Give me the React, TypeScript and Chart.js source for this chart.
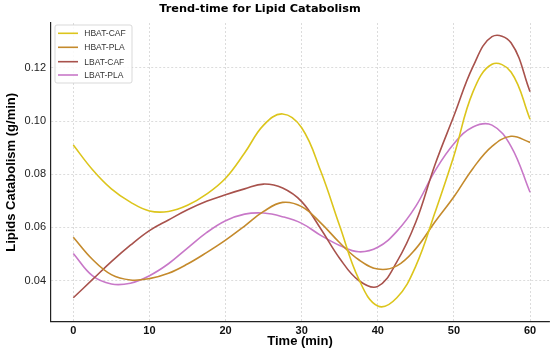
import React, { useEffect, useRef } from 'react';
import { Chart, registerables } from 'chart.js';

Chart.register(...registerables);

const chartTitle = 'Trend-time for Lipid Catabolism';
const xAxisTitle = 'Time (min)';
const yAxisTitle = 'Lipids Catabolism (g/min)';

const times = [0, 2.5, 5, 7.5, 10, 12.5, 15, 17.5, 20, 22.5, 25, 27.5, 30, 32.5, 35, 37.5, 40, 42.5, 45, 47.5, 50, 52.5, 55, 57.5, 60];

const hbatCaf = [0.091, 0.0818, 0.0745, 0.0695, 0.0662, 0.066, 0.0683, 0.0725, 0.0785, 0.088, 0.0985, 0.1027, 0.0975, 0.0812, 0.0605, 0.0405, 0.0304, 0.0335, 0.0455, 0.0655, 0.087, 0.111, 0.1214, 0.1185, 0.1007];
const hbatPla = [0.0563, 0.048, 0.0422, 0.0402, 0.0407, 0.0427, 0.0462, 0.0505, 0.0552, 0.0605, 0.066, 0.0694, 0.0678, 0.0617, 0.0542, 0.0478, 0.0443, 0.0455, 0.052, 0.062, 0.0715, 0.0822, 0.0905, 0.0943, 0.092];
const lbatCaf = [0.0335, 0.0403, 0.0471, 0.0533, 0.0588, 0.0628, 0.0666, 0.0698, 0.0723, 0.0745, 0.0763, 0.0748, 0.0697, 0.0595, 0.0483, 0.04, 0.0378, 0.047, 0.062, 0.0835, 0.102, 0.1205, 0.1318, 0.1295, 0.1111];
const lbatPla = [0.0502, 0.0418, 0.0387, 0.039, 0.0418, 0.0463, 0.0522, 0.058, 0.0625, 0.065, 0.0654, 0.064, 0.0615, 0.057, 0.0532, 0.0508, 0.0525, 0.0585, 0.068, 0.0812, 0.0915, 0.0978, 0.0985, 0.0905, 0.0732];

const seriesNames = ['HBAT-CAF', 'HBAT-PLA', 'LBAT-CAF', 'LBAT-PLA'];
const seriesValues = [hbatCaf, hbatPla, lbatCaf, lbatPla];
const seriesColors = ['#dcc51c', '#c48a2c', '#a8524c', '#c878c8'];

const xTicks = [0, 10, 20, 30, 40, 50, 60];
const yTicks = [0.04, 0.06, 0.08, 0.1, 0.12];

const titlePlugin = {
  id: 'customTitle',
  afterDraw(chart: any) {
    const ctx = chart.ctx;
    ctx.save();
    ctx.font = 'bold 11.3px "DejaVu Sans"';
    ctx.fillStyle = '#000';
    ctx.textAlign = 'center';
    ctx.textBaseline = 'alphabetic';
    ctx.fillText(chartTitle, 260, 11.7);
    ctx.restore();
  },
};

const legendPlugin = {
  id: 'customLegend',
  afterDatasetsDraw(chart: any) {
    const ctx = chart.ctx;
    ctx.save();
    const x0 = 55, y0 = 25, w = 77, h = 58, r = 2;
    ctx.beginPath();
    ctx.moveTo(x0 + r, y0);
    ctx.lineTo(x0 + w - r, y0);
    ctx.quadraticCurveTo(x0 + w, y0, x0 + w, y0 + r);
    ctx.lineTo(x0 + w, y0 + h - r);
    ctx.quadraticCurveTo(x0 + w, y0 + h, x0 + w - r, y0 + h);
    ctx.lineTo(x0 + r, y0 + h);
    ctx.quadraticCurveTo(x0, y0 + h, x0, y0 + h - r);
    ctx.lineTo(x0, y0 + r);
    ctx.quadraticCurveTo(x0, y0, x0 + r, y0);
    ctx.closePath();
    ctx.fillStyle = 'rgba(255,255,255,0.85)';
    ctx.fill();
    ctx.strokeStyle = '#cfcfcf';
    ctx.lineWidth = 0.8;
    ctx.stroke();
    const rows = [33.3, 47.3, 61.7, 75];
    ctx.font = '8.5px "Liberation Sans"';
    ctx.textBaseline = 'middle';
    ctx.textAlign = 'left';
    seriesNames.forEach((name, i) => {
      ctx.beginPath();
      ctx.strokeStyle = seriesColors[i];
      ctx.lineWidth = 1.6;
      ctx.moveTo(58, rows[i]);
      ctx.lineTo(78, rows[i]);
      ctx.stroke();
      ctx.fillStyle = '#333';
      ctx.fillText(name, 84.3, rows[i] + 0.5);
    });
    ctx.restore();
  },
};

export default function App() {
  const ref = useRef<HTMLCanvasElement>(null);
  useEffect(() => {
    document.body.style.margin = '0';
    const chart = new Chart(ref.current as HTMLCanvasElement, {
      type: 'line',
      data: {
        datasets: seriesValues.map((vals, i) => ({
          label: seriesNames[i],
          data: times.map((t, j) => ({ x: t, y: vals[j] })),
          borderColor: seriesColors[i],
          backgroundColor: seriesColors[i],
          borderWidth: 1.6,
          pointRadius: 0,
          tension: 0.4,
          fill: false,
        })),
      },
      options: {
        responsive: false,
        animation: false,
        layout: { padding: { top: 23, right: 1, left: 0, bottom: 0 } },
        scales: {
          x: {
            type: 'linear',
            min: -2.93,
            max: 62.49,
            afterBuildTicks: (s: any) => {
              s.ticks = xTicks.map((v) => ({ value: v }));
            },
            afterFit: (s: any) => {
              s.height = 30.3;
            },
            ticks: {
              font: { family: 'Liberation Sans', size: 11, weight: 'bold' },
              color: '#111',
              padding: 3,
              maxRotation: 0,
              autoSkip: false,
              callback: (v: any) => String(v),
            },
            grid: { color: '#d4d4d4', lineWidth: 0.8, drawTicks: false },
            border: { display: true, color: '#222', width: 1.2, dash: [2, 2] },
            title: {
              display: true,
              text: xAxisTitle,
              font: { family: 'Liberation Sans', size: 13, weight: 'bold' },
              color: '#000',
              padding: { top: 0, bottom: 3 },
            },
          },
          y: {
            type: 'linear',
            min: 0.02449,
            max: 0.13694,
            afterBuildTicks: (s: any) => {
              s.ticks = yTicks.map((v) => ({ value: v }));
            },
            afterFit: (s: any) => {
              s.width = 51;
            },
            ticks: {
              font: { family: 'Liberation Sans', size: 11 },
              color: '#222',
              padding: 5,
              callback: (v: any) => Number(v).toFixed(2),
            },
            grid: { color: '#d4d4d4', lineWidth: 0.8, drawTicks: false },
            border: { display: true, color: '#222', width: 1.2, dash: [2, 2] },
            title: {
              display: true,
              text: yAxisTitle,
              font: { family: 'Liberation Sans', size: 13, weight: 'bold' },
              color: '#000',
              padding: { top: 4, bottom: 0 },
            },
          },
        },
        plugins: {
          legend: { display: false },
          title: { display: false },
          tooltip: { enabled: false },
        },
      } as any,
      plugins: [titlePlugin, legendPlugin],
    });
    return () => chart.destroy();
  }, []);
  return (
    <div style={{ position: 'absolute', left: 0, top: 0, width: 550, height: 352, background: '#fff' }}>
      <canvas ref={ref} width={550} height={352} style={{ width: 550, height: 352, display: 'block' }} />
    </div>
  );
}
